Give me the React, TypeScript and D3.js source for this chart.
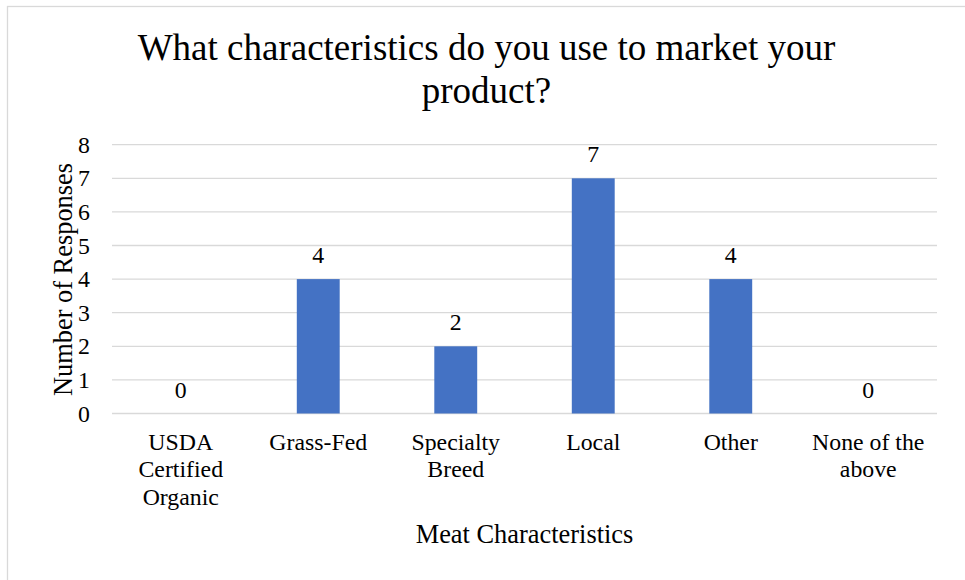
import React from "react";
import * as d3 from "d3";

const categories: string[][] = [
  ["USDA", "Certified", "Organic"],
  ["Grass-Fed"],
  ["Specialty", "Breed"],
  ["Local"],
  ["Other"],
  ["None of the", "above"],
];
const values: number[] = [0, 4, 2, 7, 4, 0];
const yTicks: number[] = [0, 1, 2, 3, 4, 5, 6, 7, 8];
const titleLines: string[] = ["What characteristics do you use to market your", "product?"];
const yAxisTitle = "Number of Responses";
const xAxisTitle = "Meat Characteristics";

const W = 965;
const H = 580;
const FONT = "'Liberation Serif', 'Times New Roman', serif";

export default function App() {
  const plotLeft = 112;
  const plotRight = 937;
  const y0 = 413.5;
  const yTop = 144.7;
  const x = d3
    .scaleBand<number>()
    .domain(values.map((_, i) => i))
    .range([plotLeft, plotRight])
    .paddingInner(0.688)
    .paddingOuter(0.344);
  const y = d3.scaleLinear().domain([0, 8]).range([y0, yTop]);

  return (
    <svg
      width={W}
      height={H}
      style={{ position: "absolute", left: 0, top: 0, background: "#fff" }}
      fontFamily={FONT}
    >
      <rect x={0} y={0} width={W} height={H} fill="#fff" />
      <rect x={7.5} y={6.5} width={980} height={600} fill="none" stroke="#d9d9d9" strokeWidth={1.3} />
      {titleLines.map((t, i) => (
        <text key={i} x={486.5} y={60 + i * 43} textAnchor="middle" fontSize={37} fill="#000">
          {t}
        </text>
      ))}
      {yTicks.map((t) => (
        <g key={t}>
          <line x1={plotLeft} x2={plotRight} y1={y(t)} y2={y(t)} stroke="#d9d9d9" strokeWidth={1.3} />
          <text x={90} y={y(t) + 8} textAnchor="end" fontSize={23.8} fill="#000">
            {t}
          </text>
        </g>
      ))}
      {values.map((v, i) => (
        <g key={i}>
          <rect
            x={x(i)!}
            y={y(v)}
            width={x.bandwidth()}
            height={y0 - y(v)}
            fill="#4472C4"
          />
          <text
            x={x(i)! + x.bandwidth() / 2}
            y={y(v) - 16}
            textAnchor="middle"
            fontSize={23.8}
            fill="#000"
          >
            {v}
          </text>
          {categories[i].map((line, j) => (
            <text
              key={j}
              x={x(i)! + x.bandwidth() / 2}
              y={450 + j * 27.4}
              textAnchor="middle"
              fontSize={23.8}
              fill="#000"
            >
              {line}
            </text>
          ))}
        </g>
      ))}
      <text
        transform={`translate(72, 279.5) rotate(-90)`}
        textAnchor="middle"
        fontSize={26.4}
        fill="#000"
      >
        {yAxisTitle}
      </text>
      <text x={524.5} y={543} textAnchor="middle" fontSize={26.4} fill="#000">
        {xAxisTitle}
      </text>
    </svg>
  );
}
